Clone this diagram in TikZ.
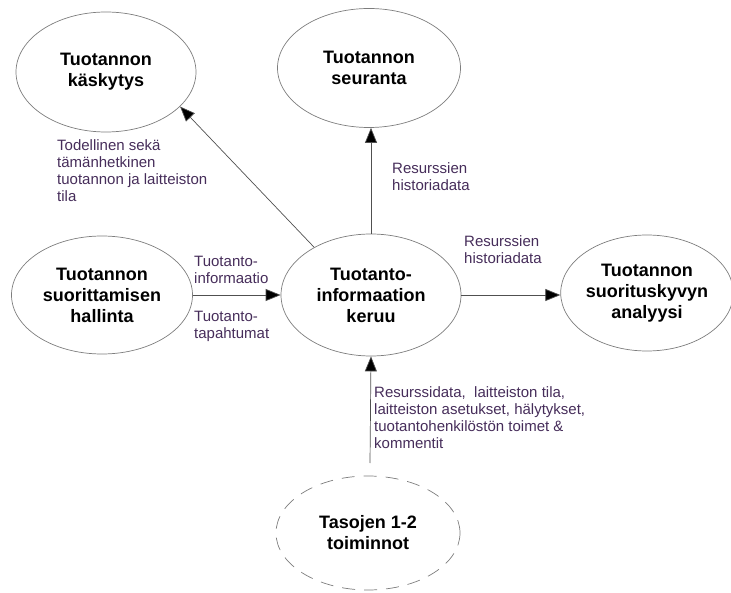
\documentclass[tikz,border=0pt]{standalone}
\usepackage{fontspec}
\setmainfont{Liberation Sans}
\usetikzlibrary{shapes.geometric,arrows.meta}
\definecolor{rimgray}{RGB}{125,125,125}
\definecolor{linegray}{RGB}{80,80,80}
\definecolor{labelpurple}{RGB}{70,45,90}
\begin{document}
\begin{tikzpicture}[x=1pt,y=-1pt,
  proc/.style={ellipse,draw=rimgray,line width=0.7pt,inner sep=0pt,
    font=\fontsize{18}{21}\selectfont\bfseries,align=center},
  flow/.style={draw=linegray,line width=0.7pt,
    -{Triangle[length=15pt,width=12pt,fill=black]}},
  lbl/.style={text=labelpurple,font=\fontsize{15}{17}\selectfont,
    align=left,anchor=north west,inner sep=0pt}]
\useasboundingbox (0,0) rectangle (731,593);

% processes
\node[proc,minimum width=180pt,minimum height=120pt] (kask) at (106,72) {Tuotannon\\käskytys};
\node[proc,minimum width=183pt,minimum height=119pt] (seur) at (369,68) {Tuotannon\\seuranta};
\node[proc,minimum width=181pt,minimum height=118pt] (hall) at (102,295) {Tuotannon\\suorittamisen\\hallinta};
\node[proc,minimum width=180pt,minimum height=122pt] (keruu) at (371,295) {Tuotanto-\\informaation\\keruu};
\node[proc,minimum width=168pt,minimum height=116pt] (anal) at (647,293) {Tuotannon\\suorituskyvyn\\analyysi};
\node[proc,dashed,dash pattern=on 13pt off 9pt,minimum width=184pt,minimum height=114pt] (taso) at (368,533) {Tasojen 1-2\\toiminnot};
\coordinate (tasotop) at (370,463);

% information flows
\draw[flow] (keruu.140) -- (kask.335);
\draw[flow] (keruu.north) -- (keruu.north |- seur.south);
\draw[flow] (hall.east) -- (keruu.west);
\draw[flow] (keruu.east) -- (keruu.east -| anal.west);
\draw[flow] (tasotop) -- (keruu.south);

% flow labels
\node[lbl] (l1) at (57,139) {Todellinen sekä\\tämänhetkinen\\tuotannon ja laitteiston\\tila};
\node[lbl] (l2) at (392,162) {Resurssien\\historiadata};
\node[lbl] (l3) at (194,256) {Tuotanto-\\informaatio};
\node[lbl] (l4) at (194,311) {Tuotanto-\\tapahtumat};
\node[lbl] (l5) at (464,235) {Resurssien\\historiadata};
\node[lbl] (l6) at (374,386) {Resurssidata,\ \ laitteiston tila,\\laitteiston asetukset, hälytykset,\\tuotantohenkilöstön toimet \&\\kommentit};
\end{tikzpicture}
\end{document}
